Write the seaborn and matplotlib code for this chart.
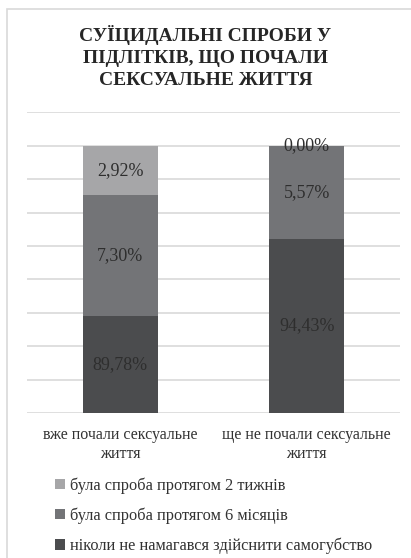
import matplotlib
matplotlib.use("Agg")
import matplotlib.pyplot as plt
from matplotlib.patches import Patch, Rectangle
import seaborn as sns
import pandas as pd
import numpy as np

title = "СУЇЦИДАЛЬНІ СПРОБИ У\nПІДЛІТКІВ, ЩО ПОЧАЛИ\nСЕКСУАЛЬНЕ ЖИТТЯ"
categories = ["вже почали сексуальне\nжиття", "ще не почали сексуальне\nжиття"]
series_names = ["була спроба протягом 2 тижнів",
                "була спроба протягом 6 місяців",
                "ніколи не намагався здійснити самогубство"]
never = [89.78, 94.43]
six_months = [7.30, 5.57]
two_weeks = [2.92, 0.00]
value_labels_never = ["89,78%", "94,43%"]
value_labels_six = ["7,30%", "5,57%"]
value_labels_two = ["2,92%", "0,00%"]
colors = ["#a6a6a8", "#737477", "#4b4c4e"]

sns.set_theme(style="white")
plt.rcParams['font.family'] = ['Liberation Serif', 'DejaVu Serif']

df = pd.DataFrame({"cat": categories, "never": never, "six": six_months, "two": two_weeks})
df["c_never"] = df["never"]
df["c_six"] = df["never"] + df["six"]
df["c_two"] = df["c_six"] + df["two"]

fig = plt.figure(figsize=(4.11, 5.58), dpi=100)
fig.patches.append(Rectangle((7/411, -0.1), 1.2, 1 - 9/558 + 0.1, transform=fig.transFigure,
                             fill=False, edgecolor="#d9d9d9", linewidth=1.2, zorder=0))
ax = fig.add_axes([27/411, 1 - 413/558, 373/411, (413 - 111.5)/558])

for col, c in zip(["c_two", "c_six", "c_never"], colors):
    sns.barplot(data=df, x="cat", y=col, color=c, width=0.4, ax=ax, saturation=1,
                edgecolor="none", linewidth=0, zorder=3)

ax.set_ylim(84, 102.05)
ax.set_yticks(np.arange(84, 103, 2))
ax.set_yticklabels([])
ax.yaxis.grid(True, color="#d9d9d9", linewidth=1.2, zorder=0)
ax.set_axisbelow(True)
for s in ax.spines.values():
    s.set_visible(False)
ax.set_xlabel("")
ax.set_ylabel("")
ax.tick_params(axis="x", length=0, pad=10, labelsize=11.5, labelcolor="#333333")
ax.tick_params(axis="y", length=0)
ax.set_xticks(range(len(categories)))
ax.set_xticklabels(categories, linespacing=1.3)

for i in range(len(categories)):
    lo = 84
    ax.text(i, (lo + df["c_never"][i]) / 2, value_labels_never[i], ha="center", va="center",
            fontsize=13, color="#2e2e2e", zorder=5)
    ax.text(i, (df["c_never"][i] + df["c_six"][i]) / 2, value_labels_six[i], ha="center", va="center",
            fontsize=13, color="#2e2e2e", zorder=5)
    ax.text(i, (df["c_six"][i] + df["c_two"][i]) / 2, value_labels_two[i], ha="center", va="center",
            fontsize=13, color="#2e2e2e", zorder=5)

fig.text(0.5, 1 - 57/558, title, ha="center", va="center", fontsize=14, fontweight="bold",
         color="#262626", linespacing=1.35)

handles = [Patch(facecolor=c, edgecolor="none") for c in colors]
fig.legend(handles, series_names, loc="upper left", bbox_to_anchor=(55/411, 1 - 477/558),
           frameon=False, fontsize=11.8, handlelength=0.6, handleheight=0.6, handletextpad=0.3,
           labelspacing=0.85, labelcolor="#333333", borderpad=0, borderaxespad=0)

fig.savefig("out.png", dpi=100)
